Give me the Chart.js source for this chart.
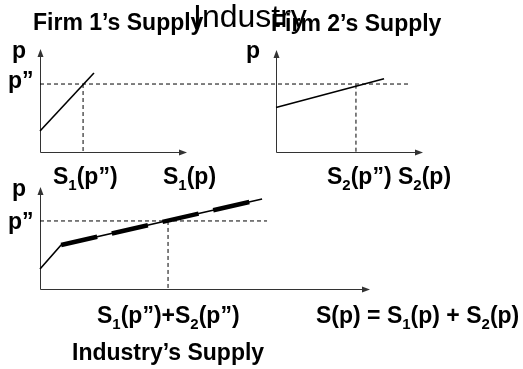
<!DOCTYPE html>
<html>
<head>
<meta charset="utf-8">
<script src="https://cdn.jsdelivr.net/npm/chart.js@4"></script>
<style>
  html, body { margin: 0; padding: 0; background: #fff; }
  #wrap { position: relative; width: 523px; height: 369px; overflow: hidden; }
  canvas { position: absolute; left: 0; top: 0; }
  .t { position: absolute; white-space: nowrap; font-family: "Liberation Sans", Arial, sans-serif;
       font-size: 23px; line-height: 23px; font-weight: bold; color: #000; }
  .t sub { font-size: 15px; line-height: 0; vertical-align: -6px; }
  .big { font-size: 32px; line-height: 32px; font-weight: normal; }
</style>
</head>
<body>
<div id="wrap">
  <canvas id="firm1" width="523" height="369"></canvas>
  <canvas id="firm2" width="523" height="369"></canvas>
  <canvas id="industry" width="523" height="369"></canvas>

  <div class="t" style="left:33px;top:11px">Firm 1’s Supply</div>
  <div class="t" style="left:271px;top:12px">Firm 2’s Supply</div>
  <div class="t big" style="left:193px;top:0px">Industry</div>

  <div class="t" style="left:12px;top:39px">p</div>
  <div class="t" style="left:8px;top:69px">p”</div>
  <div class="t" style="left:246px;top:39px">p</div>
  <div class="t" style="left:53px;top:165px">S<sub>1</sub>(p”)</div>
  <div class="t" style="left:163px;top:165px">S<sub>1</sub>(p)</div>
  <div class="t" style="left:327px;top:165px">S<sub>2</sub>(p”)</div>
  <div class="t" style="left:398px;top:165px">S<sub>2</sub>(p)</div>

  <div class="t" style="left:12px;top:177px">p</div>
  <div class="t" style="left:8px;top:210px">p”</div>
  <div class="t" style="left:97px;top:304px">S<sub>1</sub>(p”)+S<sub>2</sub>(p”)</div>
  <div class="t" style="left:316px;top:304px">S(p) = S<sub>1</sub>(p) + S<sub>2</sub>(p)</div>
  <div class="t" style="left:72px;top:341px">Industry’s Supply</div>
</div>

<script>
// price level p'' in each panel (axis units 0..10)
const pTop = 6.6;
const pIndustry = 6.67;

// firm 1 supply curve
const firm1X = [0, 3.67];
const firm1Y = [2.04, 7.67];
const firm1AtP = 2.93;   // S1(p'')
const guide1End = 25.2;  // dashed p'' line runs across into firm 2's panel

// firm 2 supply curve
const firm2X = [0, 7.35];
const firm2Y = [4.37, 7.18];
const firm2AtP = 5.44;   // S2(p'')

// industry supply (kinked), with the thick dashed part
const industryX = [0, 0.64, 6.73];
const industryY = [1.96, 4.31, 8.82];
const thickX = [0.64, 6.36];
const thickY = [4.31, 8.54];
const industryAtP = 3.88; // S1(p'')+S2(p'')
const guide3End = 6.88;

function pts(xs, ys) {
  return xs.map((x, i) => ({ x: x, y: ys[i] }));
}

const axesArrows = {
  id: "axesArrows",
  beforeDatasetsDraw(chart) {
    const { ctx, chartArea: a } = chart;
    const x0 = Math.round(a.left) + 0.5;
    const y0 = Math.round(a.bottom) + 0.5;
    ctx.save();
    ctx.strokeStyle = "#333";
    ctx.fillStyle = "#333";
    ctx.lineWidth = 1;
    ctx.beginPath();
    ctx.moveTo(x0, a.top + 4);
    ctx.lineTo(x0, y0);
    ctx.lineTo(a.right - 4, y0);
    ctx.stroke();
    // arrow heads
    ctx.beginPath();
    ctx.moveTo(x0, a.top);
    ctx.lineTo(x0 - 3, a.top + 8);
    ctx.lineTo(x0 + 3, a.top + 8);
    ctx.closePath();
    ctx.fill();
    ctx.beginPath();
    ctx.moveTo(a.right, y0);
    ctx.lineTo(a.right - 8, y0 - 3);
    ctx.lineTo(a.right - 8, y0 + 3);
    ctx.closePath();
    ctx.fill();
    ctx.restore();
  },
};

function guide(data) {
  return {
    data: data,
    borderColor: "#000",
    borderWidth: 1,
    borderDash: [4, 3],
    pointRadius: 0,
    showLine: true,
    clip: false,
  };
}

function curve(data, width, dash) {
  return {
    data: data,
    borderColor: "#000",
    borderWidth: width,
    borderDash: dash || [],
    pointRadius: 0,
    showLine: true,
    clip: false,
  };
}

function makeChart(id, padding, datasets) {
  const ctx = document.getElementById(id).getContext("2d");
  return new Chart(ctx, {
    type: "scatter",
    data: { datasets: datasets },
    options: {
      responsive: false,
      animation: false,
      devicePixelRatio: 1,
      layout: { padding: padding },
      scales: {
        x: { type: "linear", min: 0, max: 10, display: false },
        y: { type: "linear", min: 0, max: 10, display: false },
      },
      plugins: { legend: { display: false }, tooltip: { enabled: false } },
    },
    plugins: [axesArrows],
  });
}

makeChart("firm1", { left: 40, right: 336, top: 49, bottom: 217 }, [
  guide(pts([0, guide1End], [pTop, pTop])),
  guide(pts([firm1AtP, firm1AtP], [pTop, 0])),
  curve(pts(firm1X, firm1Y), 1.6),
]);

makeChart("firm2", { left: 276, right: 100, top: 50, bottom: 217 }, [
  guide(pts([firm2AtP, firm2AtP], [pTop, 0])),
  curve(pts(firm2X, firm2Y), 1.6),
]);

makeChart("industry", { left: 40, right: 153, top: 187, bottom: 80 }, [
  guide(pts([0, guide3End], [pIndustry, pIndustry])),
  guide(pts([industryAtP, industryAtP], [pIndustry, 0])),
  curve(pts(industryX, industryY), 1.6),
  curve(pts(thickX, thickY), 4.5, [37, 15]),
]);
</script>
</body>
</html>
